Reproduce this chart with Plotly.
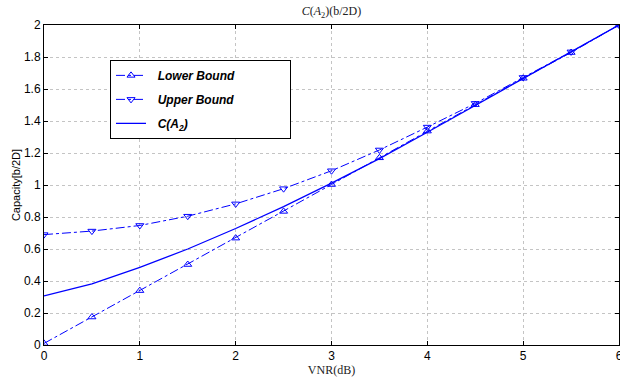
import plotly.graph_objects as go

vnr = [0, 0.5, 1, 1.5, 2, 2.5, 3, 3.5, 4, 4.5, 5, 5.5, 6]
lower = [0.01, 0.175, 0.34, 0.503, 0.668, 0.835, 1.003, 1.17, 1.337, 1.502, 1.667, 1.828, 2.0]
upper = [0.69, 0.712, 0.747, 0.805, 0.882, 0.977, 1.089, 1.219, 1.362, 1.51, 1.672, 1.832, 2.0]
capacity = [0.307, 0.382, 0.485, 0.6, 0.728, 0.865, 1.012, 1.165, 1.33, 1.497, 1.663, 1.83, 2.0]
names = ["Lower Bound", "Upper Bound", "C(A<sub>2</sub>)"]

blue = "#0000ff"
pad_l = "&nbsp;&nbsp;"
pad_r = "&nbsp;" * 15
fig = go.Figure()
fig.add_trace(go.Scatter(x=vnr, y=lower, mode="lines+markers",
                         name=f"<b><i>{pad_l}{names[0]}{pad_r}</i></b>", legendgroup="a",
                         line=dict(color=blue, width=1, dash="dashdot"),
                         marker=dict(symbol="triangle-up-open", size=7, color=blue, line=dict(width=1))))
fig.add_trace(go.Scatter(x=vnr, y=upper, mode="lines+markers",
                         name=f"<b><i>{pad_l}{names[1]}</i></b>", legendgroup="b",
                         line=dict(color=blue, width=1, dash="dashdot"),
                         marker=dict(symbol="triangle-down-open", size=7, color=blue, line=dict(width=1))))
fig.add_trace(go.Scatter(x=vnr, y=capacity, mode="lines",
                         name=f"<b><i>{pad_l}{names[2]}</i></b>", legendgroup="c",
                         line=dict(color=blue, width=1.3)))

axis_common = dict(showline=True, linecolor="black", linewidth=1, mirror="ticks", ticks="inside",
                   ticklen=4, tickcolor="black", showgrid=True, gridcolor="#c4c4c4", griddash="dot",
                   gridwidth=1, zeroline=False, automargin=False, ticklabeloverflow="allow",
                   tickfont=dict(family="Liberation Sans, Arial", size=12, color="black"))
fig.update_xaxes(range=[0, 6], dtick=1, **axis_common,
                 title=dict(text="VNR(dB)", standoff=0,
                            font=dict(family="Liberation Serif, Times New Roman", size=12, color="#222")))
fig.update_yaxes(range=[0, 2], dtick=0.2, **axis_common,
                 title=dict(text="Capacity[b/2D]", standoff=1,
                            font=dict(family="Liberation Sans, Arial", size=11, color="black")))
fig.update_layout(
    width=620, height=378,
    margin=dict(l=44, r=1, t=25, b=33),
    paper_bgcolor="white", plot_bgcolor="white",
    title=dict(text="<i>C</i>(<i>A</i><sub>2</sub>)(b/2D)", xref="paper", x=0.5, xanchor="center",
               y=0.971, yanchor="middle",
               font=dict(family="Liberation Serif, Times New Roman", size=12, color="#222")),
    legend=dict(x=0.1148, y=0.891, xanchor="left", yanchor="top", bgcolor="white",
                bordercolor="black", borderwidth=1,
                font=dict(family="Liberation Sans, Arial", size=12, color="black"),
                tracegroupgap=5),
    showlegend=True,
)
fig.write_html("out.html", config={"displayModeBar": False},
               post_script="document.body.style.margin='0';document.body.style.overflow='hidden';")
